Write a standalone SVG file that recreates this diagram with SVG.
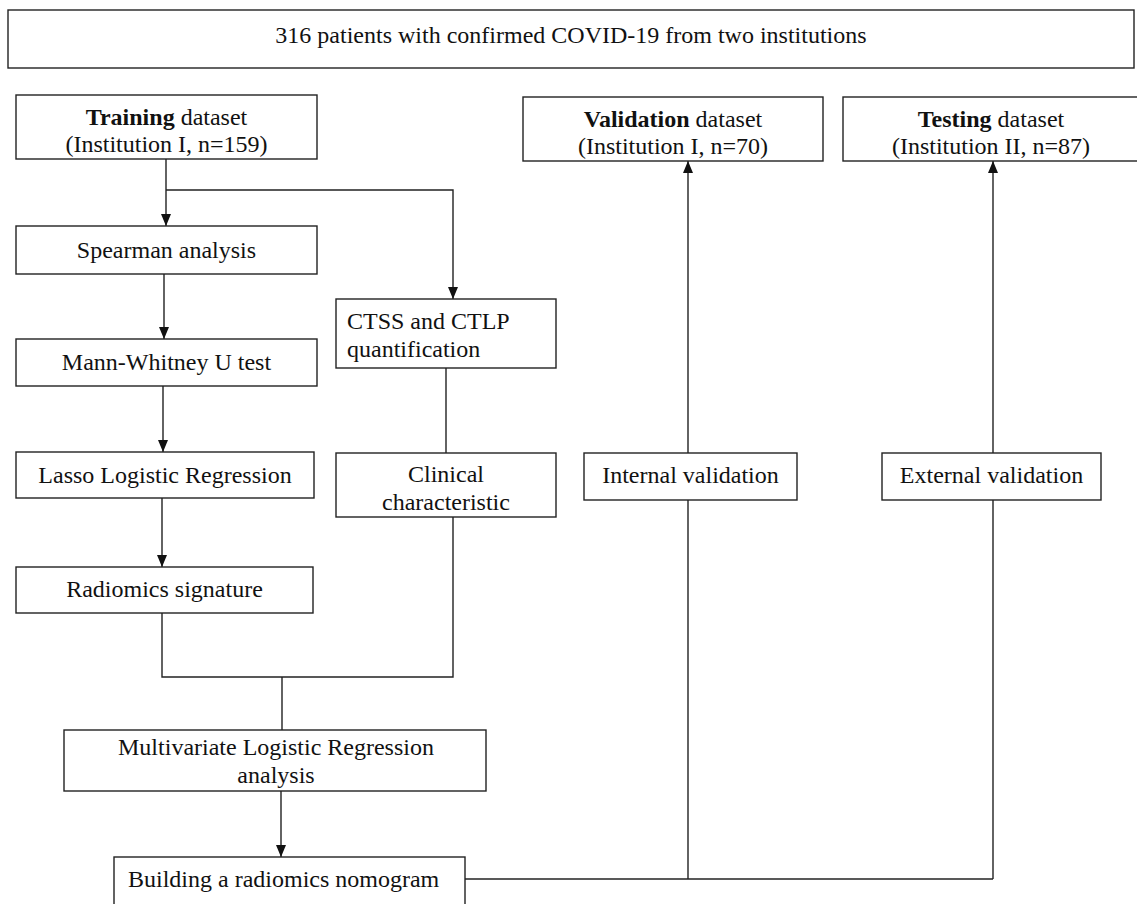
<svg xmlns="http://www.w3.org/2000/svg" width="1137" height="904" viewBox="0 0 1137 904">
<style>
.box{fill:#fff;stroke:#222;stroke-width:1.4}
.t{font-family:"Liberation Serif","Times New Roman",serif;font-size:24px;fill:#111}
.c{text-anchor:middle}
.b{font-weight:bold}
.ln{fill:none;stroke:#222;stroke-width:1.4}
</style>
<defs>
<marker id="ah" markerUnits="userSpaceOnUse" markerWidth="12" markerHeight="10" refX="12" refY="5" orient="auto">
<path d="M0,0 L12,5 L0,10 z" fill="#111"/>
</marker>
</defs>
<rect width="1137" height="904" fill="#fff"/>
<g id="connectors">
<path class="ln" d="M166,159 V226" marker-end="url(#ah)"/>
<path class="ln" d="M166,190 H453 V299" marker-end="url(#ah)"/>
<path class="ln" d="M164,274 V339" marker-end="url(#ah)"/>
<path class="ln" d="M163,386 V452" marker-end="url(#ah)"/>
<path class="ln" d="M162,498 V567" marker-end="url(#ah)"/>
<path class="ln" d="M446,368 V453"/>
<path class="ln" d="M162,613 V677 H453 V517"/>
<path class="ln" d="M282,677 V730"/>
<path class="ln" d="M281,791 V857" marker-end="url(#ah)"/>
<path class="ln" d="M465,879 H993"/>
<path class="ln" d="M688,879 V500"/>
<path class="ln" d="M993,879 V500"/>
<path class="ln" d="M688,453 V161" marker-end="url(#ah)"/>
<path class="ln" d="M993,453 V161" marker-end="url(#ah)"/>
</g>
<g id="n-top">
<rect class="box" x="8" y="10" width="1126" height="58"/>
<text class="t c" x="571" y="43">316 patients with confirmed COVID-19 from two institutions</text>
</g>
<g id="n-training">
<rect class="box" x="16" y="95" width="301" height="64"/>
<text class="t c" x="166.5" y="125"><tspan class="b">Training</tspan> dataset</text>
<text class="t c" x="166.5" y="152">(Institution I, n=159)</text>
</g>
<g id="n-validation">
<rect class="box" x="523" y="97" width="300" height="64"/>
<text class="t c" x="673" y="127"><tspan class="b">Validation</tspan> dataset</text>
<text class="t c" x="673" y="154">(Institution I, n=70)</text>
</g>
<g id="n-testing">
<rect class="box" x="843" y="97" width="300" height="64"/>
<text class="t c" x="991" y="127"><tspan class="b">Testing</tspan> dataset</text>
<text class="t c" x="991" y="154">(Institution II, n=87)</text>
</g>
<g id="n-spearman">
<rect class="box" x="16" y="226" width="301" height="48"/>
<text class="t c" x="166.5" y="258">Spearman analysis</text>
</g>
<g id="n-ctss">
<rect class="box" x="336" y="299" width="220" height="69"/>
<text class="t" x="347" y="329">CTSS and CTLP</text>
<text class="t" x="347" y="357">quantification</text>
</g>
<g id="n-mann">
<rect class="box" x="16" y="339" width="301" height="47"/>
<text class="t c" x="166.5" y="370">Mann-Whitney U test</text>
</g>
<g id="n-lasso">
<rect class="box" x="16" y="452" width="298" height="46"/>
<text class="t c" x="165" y="483">Lasso Logistic Regression</text>
</g>
<g id="n-clinical">
<rect class="box" x="336" y="453" width="220" height="64"/>
<text class="t c" x="446" y="482">Clinical</text>
<text class="t c" x="446" y="510">characteristic</text>
</g>
<g id="n-internal">
<rect class="box" x="584" y="453" width="213" height="47"/>
<text class="t c" x="690.5" y="483">Internal validation</text>
</g>
<g id="n-external">
<rect class="box" x="882" y="453" width="219" height="47"/>
<text class="t c" x="991.5" y="483">External validation</text>
</g>
<g id="n-radiomics">
<rect class="box" x="16" y="567" width="297" height="46"/>
<text class="t c" x="164.5" y="597">Radiomics signature</text>
</g>
<g id="n-multivariate">
<rect class="box" x="64" y="730" width="422" height="61"/>
<text class="t c" x="276" y="755">Multivariate Logistic Regression</text>
<text class="t c" x="276" y="783">analysis</text>
</g>
<g id="n-building">
<rect class="box" x="114" y="857" width="351" height="60"/>
<text class="t" x="128" y="887">Building a radiomics nomogram</text>
</g>
</svg>
